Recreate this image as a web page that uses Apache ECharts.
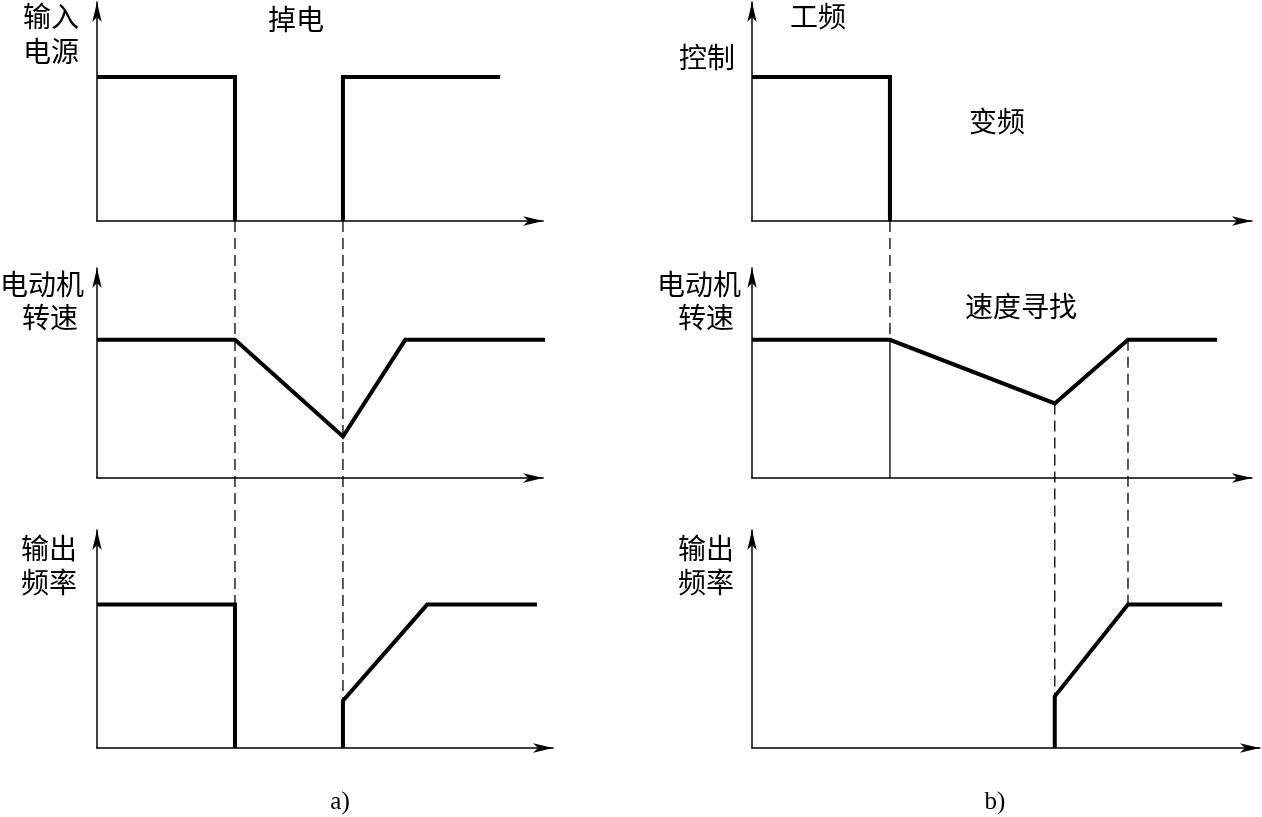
<!DOCTYPE html>
<html>
<head>
<meta charset="utf-8">
<script src="https://cdn.jsdelivr.net/npm/echarts@6/dist/echarts.min.js"></script>
<style>
html,body{margin:0;padding:0;background:#fff;}
#main{width:1262px;height:817px;}
</style>
</head>
<body>
<div id="main"></div>
<script>
// a) 掉电再起动  —— 时间轴单位任意, 幅值以额定值为 1
var powerA  = [[0, 1], [3.08, 1], [3.08, 0], [4.3, '-'], [5.49, 0], [5.49, 1], [9.0, 1]];
var speedA  = [[0, 1], [3.08, 1], [5.49, 0.30], [6.88, 1], [10.0, 1]];
var freqA   = [[0, 1], [3.08, 1], [3.08, 0], [4.3, '-'], [5.49, 0], [5.49, 0.33], [7.37, 1], [9.82, 1]];

// b) 工频 / 变频切换
var ctrlB   = [[0, 1], [2.77, 1], [2.77, 0]];
var speedB  = [[0, 1], [2.77, 1], [6.08, 0.54], [7.55, 1], [9.34, 1]];
var freqB   = [[6.08, 0], [6.08, 0.36], [7.55, 1], [9.44, 1]];
var switchB = [[2.77, 1], [2.77, 0]];

// 虚线: [起始面板, t, y, 终止面板, y]
var guides = [
    [0, 3.08, 0, 2, 1],
    [0, 5.49, 0, 2, 0.33],
    [3, 2.77, 0, 4, 1],
    [4, 6.08, 0.54, 5, 0.36],
    [4, 7.55, 1, 5, 1]
];

var labels = [
    ['输入', 51, 16], ['电源', 51, 51], ['掉电', 296, 19],
    ['电动机', 42, 284], ['转速', 50, 317],
    ['输出', 49, 548], ['频率', 49, 582],
    ['工频', 818, 16], ['控制', 707, 57], ['变频', 997, 121],
    ['电动机', 699, 284], ['转速', 706, 317], ['速度寻找', 1021, 306],
    ['输出', 706, 548], ['频率', 706, 582]
];

var myChart = echarts.init(document.getElementById('main'));

// 面板布局: 左 a) 列, 右 b) 列, 每列三行
var panels = [
    {left: 97,  top: 2,   height: 219, unit: 44.8, xmax: 9.96},
    {left: 97,  top: 268, height: 210, unit: 44.8, xmax: 9.96},
    {left: 97,  top: 530, height: 218, unit: 44.8, xmax: 10.18},
    {left: 752, top: 2,   height: 219, unit: 49.8, xmax: 10.04},
    {left: 752, top: 268, height: 210, unit: 49.8, xmax: 10.04},
    {left: 752, top: 530, height: 218, unit: 49.8, xmax: 10.2}
];

var axisLine = {
    show: true,
    symbol: ['none', 'arrow'],
    symbolSize: [7, 20],
    lineStyle: {color: '#000', width: 1.5}
};

var grids = [], xAxes = [], yAxes = [];
panels.forEach(function (p, i) {
    grids.push({left: p.left, top: p.top, width: p.xmax * p.unit, height: p.height});
    xAxes.push({
        type: 'value', gridIndex: i, min: 0, max: p.xmax,
        axisLine: axisLine, axisTick: {show: false}, axisLabel: {show: false}, splitLine: {show: false}
    });
    yAxes.push({
        type: 'value', gridIndex: i, min: 0, max: 1.52,
        axisLine: axisLine, axisTick: {show: false}, axisLabel: {show: false}, splitLine: {show: false}
    });
});

function wave(data, idx, width) {
    return {
        type: 'line',
        xAxisIndex: idx,
        yAxisIndex: idx,
        data: data,
        showSymbol: false,
        clip: false,
        silent: true,
        lineStyle: {color: '#000', width: width || 4, join: 'miter'}
    };
}

var textStyle = {fontFamily: 'Noto Sans CJK SC', fontSize: 28, fill: '#000'};
var graphics = labels.map(function (l) {
    return {
        type: 'text', x: l[1], y: l[2], silent: true,
        style: Object.assign({text: l[0], textAlign: 'center', textVerticalAlign: 'middle'}, textStyle)
    };
});
graphics.push({type: 'text', x: 340, y: 802, style: {text: 'a)', fontFamily: 'Liberation Serif', fontSize: 25, fill: '#000', textAlign: 'center', textVerticalAlign: 'middle'}});
graphics.push({type: 'text', x: 995, y: 802, style: {text: 'b)', fontFamily: 'Liberation Serif', fontSize: 25, fill: '#000', textAlign: 'center', textVerticalAlign: 'middle'}});

option = {
    backgroundColor: '#fff',
    animation: false,
    grid: grids,
    xAxis: xAxes,
    yAxis: yAxes,
    series: [
        wave(powerA, 0),
        wave(speedA, 1),
        wave(freqA, 2),
        wave(ctrlB, 3),
        wave(speedB, 4),
        wave(freqB, 5),
        wave(switchB, 4, 1.3)
    ],
    graphic: graphics
};
myChart.setOption(option);

// 跨面板的虚线, 端点由各面板坐标轴换算
var dashes = guides.map(function (g) {
    var p1 = myChart.convertToPixel({gridIndex: g[0]}, [g[1], g[2]]);
    var p2 = myChart.convertToPixel({gridIndex: g[3]}, [g[1], g[4]]);
    return {
        type: 'line', silent: true,
        shape: {x1: p1[0], y1: p1[1], x2: p2[0], y2: p2[1]},
        style: {stroke: '#000', lineWidth: 1.3, lineDash: [11, 6]}
    };
});
myChart.setOption({graphic: graphics.concat(dashes)});
</script>
</body>
</html>
